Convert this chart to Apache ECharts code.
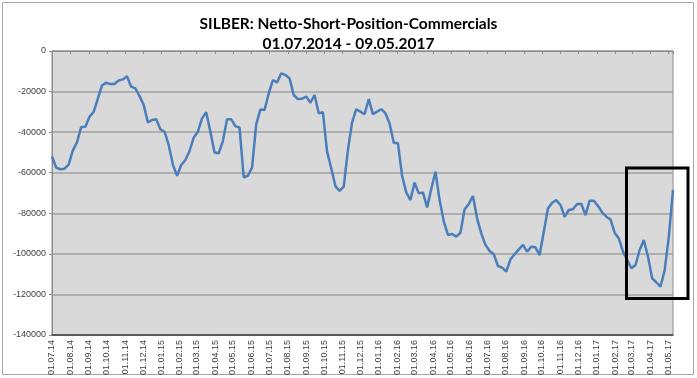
<!DOCTYPE html>
<html>
<head>
<meta charset="utf-8">
<script src="https://cdn.jsdelivr.net/npm/echarts@6/dist/echarts.min.js"></script>
<style>
	html, body { margin: 0; padding: 0; background: #ffffff; }
	#chart { width: 697px; height: 378px; }
</style>
</head>
<body>
<div id="chart"></div>
<script>
// Titel
var titleLines = ["SILBER: Netto-Short-Position-Commercials", "01.07.2014 - 09.05.2017"];
// Zeitraum (wöchentliche COT-Daten, jeweils dienstags)
var startDate = "2014-07-01";
var endDate = "2017-05-09";
// Netto-Short-Position der Commercials, eine Zahl pro Woche
var netShort = [
	-52000, -57500, -58300, -58000, -56000, -49000, -45000, -37500, -37300, -32400,
	-30000, -23500, -17000, -15600, -16300, -16300, -14500, -14000, -12500, -17600,
	-18400, -22200, -26600, -35200, -34000, -33700, -38600, -39800, -46300, -56000,
	-61500, -56200, -53700, -49300, -42700, -39800, -33200, -30200, -39800, -50000,
	-50400, -44400, -33700, -33700, -37000, -37800, -62300, -61500, -57500, -36200,
	-28800, -29100, -20900, -14300, -15500, -11000, -11800, -13500, -21700, -23700,
	-23500, -22500, -25500, -21700, -30700, -30200, -49600, -57800, -66600, -69000,
	-66900, -48800, -35300, -28700, -29900, -31200, -23700, -31100, -29900, -28700,
	-30700, -35700, -45200, -45500, -61500, -69700, -73500, -64900, -70200, -69700,
	-77100, -68000, -59500, -73500, -84000, -90700, -90200, -91500, -89600, -78000,
	-75400, -71500, -82500, -89900, -95600, -98600, -100200, -106000, -106800, -108800,
	-102700, -100200, -97800, -95600, -98900, -96500, -96800, -100600, -89100, -77600,
	-74800, -73500, -75900, -81700, -78400, -78000, -75400, -75400, -80900, -73800,
	-73800, -76400, -79500, -81700, -83000, -89600, -92400, -98900, -103000, -107100,
	-105500, -98100, -93200, -101400, -112100, -114000, -116200, -108000, -91500, -68500
];
// Y-Achse
var yMin = -140000, yMax = 0, yStep = 20000;

var myChart = echarts.init(document.getElementById("chart"));

// Datum jeder Woche neben den Wert legen
var weekMs = 7 * 24 * 3600 * 1000;
var t0 = new Date(startDate + "T00:00:00").getTime();
var lineData = [];
for (var i = 0; i < netShort.length; i++) {
	lineData.push([t0 + i * weekMs, netShort[i]]);
}

function pad(n) { return n < 10 ? "0" + n : "" + n; }
function monthLabel(v) {
	var d = new Date(v);
	if (d.getDate() !== 1) {
		return "";
	}
	return pad(d.getDate()) + "." + pad(d.getMonth() + 1) + "." + pad(d.getFullYear() % 100);
}

var minT = new Date(startDate + "T00:00:00").getTime();
var maxT = new Date(endDate + "T00:00:00").getTime();

var option = {
	backgroundColor: "#ffffff",
	animation: false,
	title: {
		text: titleLines.join("\n"),
		left: "center",
		top: 9,
		textStyle: {
			fontFamily: "Lato",
			fontWeight: "bold",
			fontSize: 15.5,
			lineHeight: 20,
			color: "#000000"
		}
	},
	grid: {
		left: 52,
		right: 24,
		top: 51,
		bottom: 43,
		show: true,
		backgroundColor: "#d9d9d9",
		borderColor: "#8c8c8c",
		borderWidth: 1
	},
	xAxis: [{
		type: "time",
		position: "bottom",
		min: minT,
		max: maxT,
		splitNumber: 34,
		axisLine: { show: true, onZero: false, lineStyle: { color: "#404040", width: 1.5 } },
		axisTick: { show: false },
		splitLine: { show: false },
		axisLabel: {
			rotate: 90,
			margin: 5,
			fontFamily: "Liberation Sans",
			fontSize: 9,
			color: "#404040",
			interval: 0,
			hideOverlap: false,
			formatter: monthLabel
		}
	}, {
		type: "time",
		position: "top",
		min: minT,
		max: maxT,
		splitNumber: 34,
		axisLine: { show: true, onZero: false, lineStyle: { color: "#8c8c8c" } },
		axisTick: { show: true, inside: true, length: 3, lineStyle: { color: "#8c8c8c" } },
		axisLabel: { show: false },
		splitLine: { show: false }
	}],
	yAxis: {
		type: "value",
		min: yMin,
		max: yMax,
		interval: yStep,
		axisLine: { show: true, lineStyle: { color: "#8c8c8c" } },
		axisTick: { show: true, length: 3, lineStyle: { color: "#8c8c8c" } },
		axisLabel: {
			fontFamily: "Liberation Sans",
			fontSize: 9,
			color: "#404040",
			margin: 6,
			formatter: function(v) { return String(v); }
		},
		splitLine: { show: true, lineStyle: { color: "#a0a0a0", width: 1.5 } }
	},
	series: [{
		name: "Netto-Short-Position",
		type: "line",
		xAxisIndex: 0,
		data: lineData,
		showSymbol: false,
		lineStyle: { color: "#4a7ebb", width: 2.5 },
		itemStyle: { color: "#4a7ebb" }
	}],
	graphic: [{
		// äußerer Rahmen
		type: "rect",
		shape: { x: 2.5, y: 2.5, width: 691, height: 372 },
		style: { fill: null, stroke: "#a6a6a6", lineWidth: 1 },
		silent: true
	}, {
		// Markierung der letzten Wochen
		type: "rect",
		shape: { x: 626.5, y: 168, width: 61.5, height: 130.5 },
		style: { fill: null, stroke: "#000000", lineWidth: 3 },
		silent: true,
		z: 100
	}]
};
myChart.setOption(option);
window.addEventListener("resize", function() {
	myChart.resize();
});
</script>
</body>
</html>
